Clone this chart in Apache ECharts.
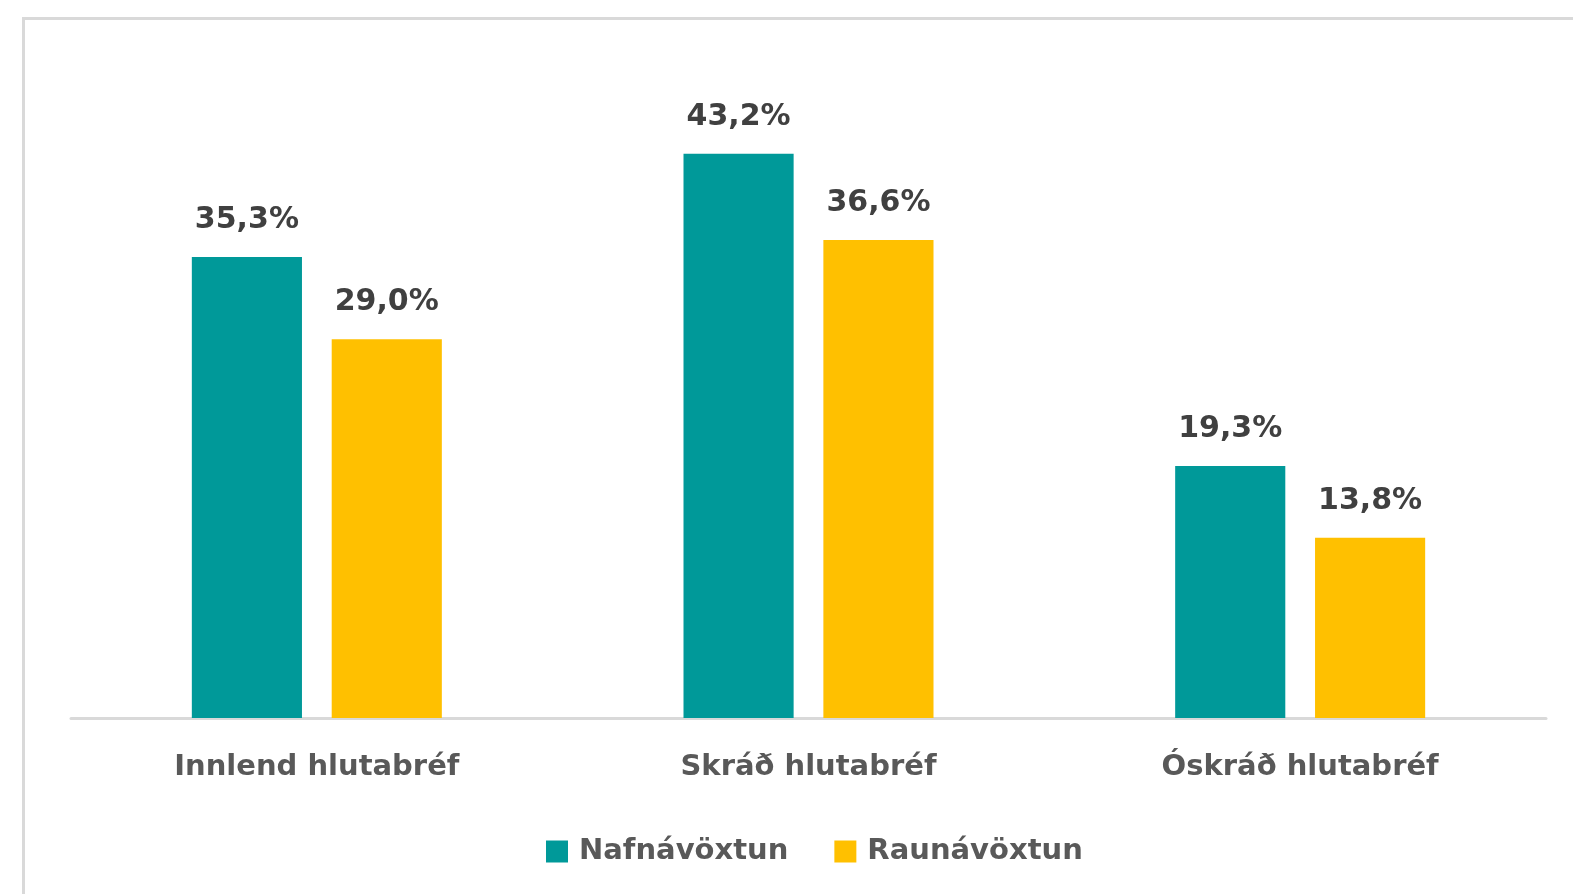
<!DOCTYPE html>
<html>
<head>
<meta charset="utf-8">
<script src="https://cdn.jsdelivr.net/npm/echarts@6/dist/echarts.min.js"></script>
<style>
  html, body { margin: 0; padding: 0; background: #fff; }
  #chart { width: 1573px; height: 894px; }
</style>
</head>
<body>
<div id="chart"></div>
<script>
// categories and series
var categories = ['Innlend hlutabréf', 'Skráð hlutabréf', 'Óskráð hlutabréf'];
var nafnavoxtun = [35.3, 43.2, 19.3];
var raunavoxtun = [29.0, 36.6, 13.8];
var seriesNames = ['Nafnávöxtun', 'Raunávöxtun'];

var fontFam = '"DejaVu Sans", Verdana, sans-serif';

function pct(p) {
  return p.value.toFixed(1).replace('.', ',') + '%';
}

var chart = echarts.init(document.getElementById('chart'));
var option = {
  animation: false,
  graphic: [{
    type: 'rect',
    shape: { x: 23.5, y: 18.5, width: 1700, height: 1000 },
    style: { fill: 'none', stroke: '#d9d9d9', lineWidth: 3 },
    silent: true
  }],
  grid: {
    left: 71,
    right: 27,
    top: 65,
    bottom: 176
  },
  legend: {
    data: seriesNames,
    top: 832,
    left: 541,
    itemWidth: 22,
    itemHeight: 22,
    itemGap: 46,
    icon: 'rect',
    textStyle: {
      color: '#595959',
      fontFamily: fontFam,
      fontWeight: 'bold',
      fontSize: 29,
      padding: [0, 0, 0, 6]
    }
  },
  xAxis: {
    type: 'category',
    data: categories,
    axisLine: { lineStyle: { color: '#d9d9d9', width: 3 } },
    axisTick: { show: false },
    axisLabel: {
      margin: 35,
      color: '#595959',
      fontFamily: fontFam,
      fontWeight: 'bold',
      fontSize: 29
    }
  },
  yAxis: {
    type: 'value',
    min: 0,
    max: 50,
    show: false,
    splitLine: { show: false }
  },
  series: [{
    name: seriesNames[0],
    type: 'bar',
    data: nafnavoxtun,
    barWidth: '22.4%',
    barGap: '27%',
    itemStyle: { color: '#009999' },
    label: {
      show: true,
      position: 'top',
      distance: 22,
      formatter: pct,
      color: '#404040',
      fontFamily: fontFam,
      fontWeight: 'bold',
      fontSize: 30
    }
  }, {
    name: seriesNames[1],
    type: 'bar',
    data: raunavoxtun,
    barWidth: '22.4%',
    itemStyle: { color: '#FFC000' },
    label: {
      show: true,
      position: 'top',
      distance: 22,
      formatter: pct,
      color: '#404040',
      fontFamily: fontFam,
      fontWeight: 'bold',
      fontSize: 30
    }
  }]
};
chart.setOption(option);
</script>
</body>
</html>
